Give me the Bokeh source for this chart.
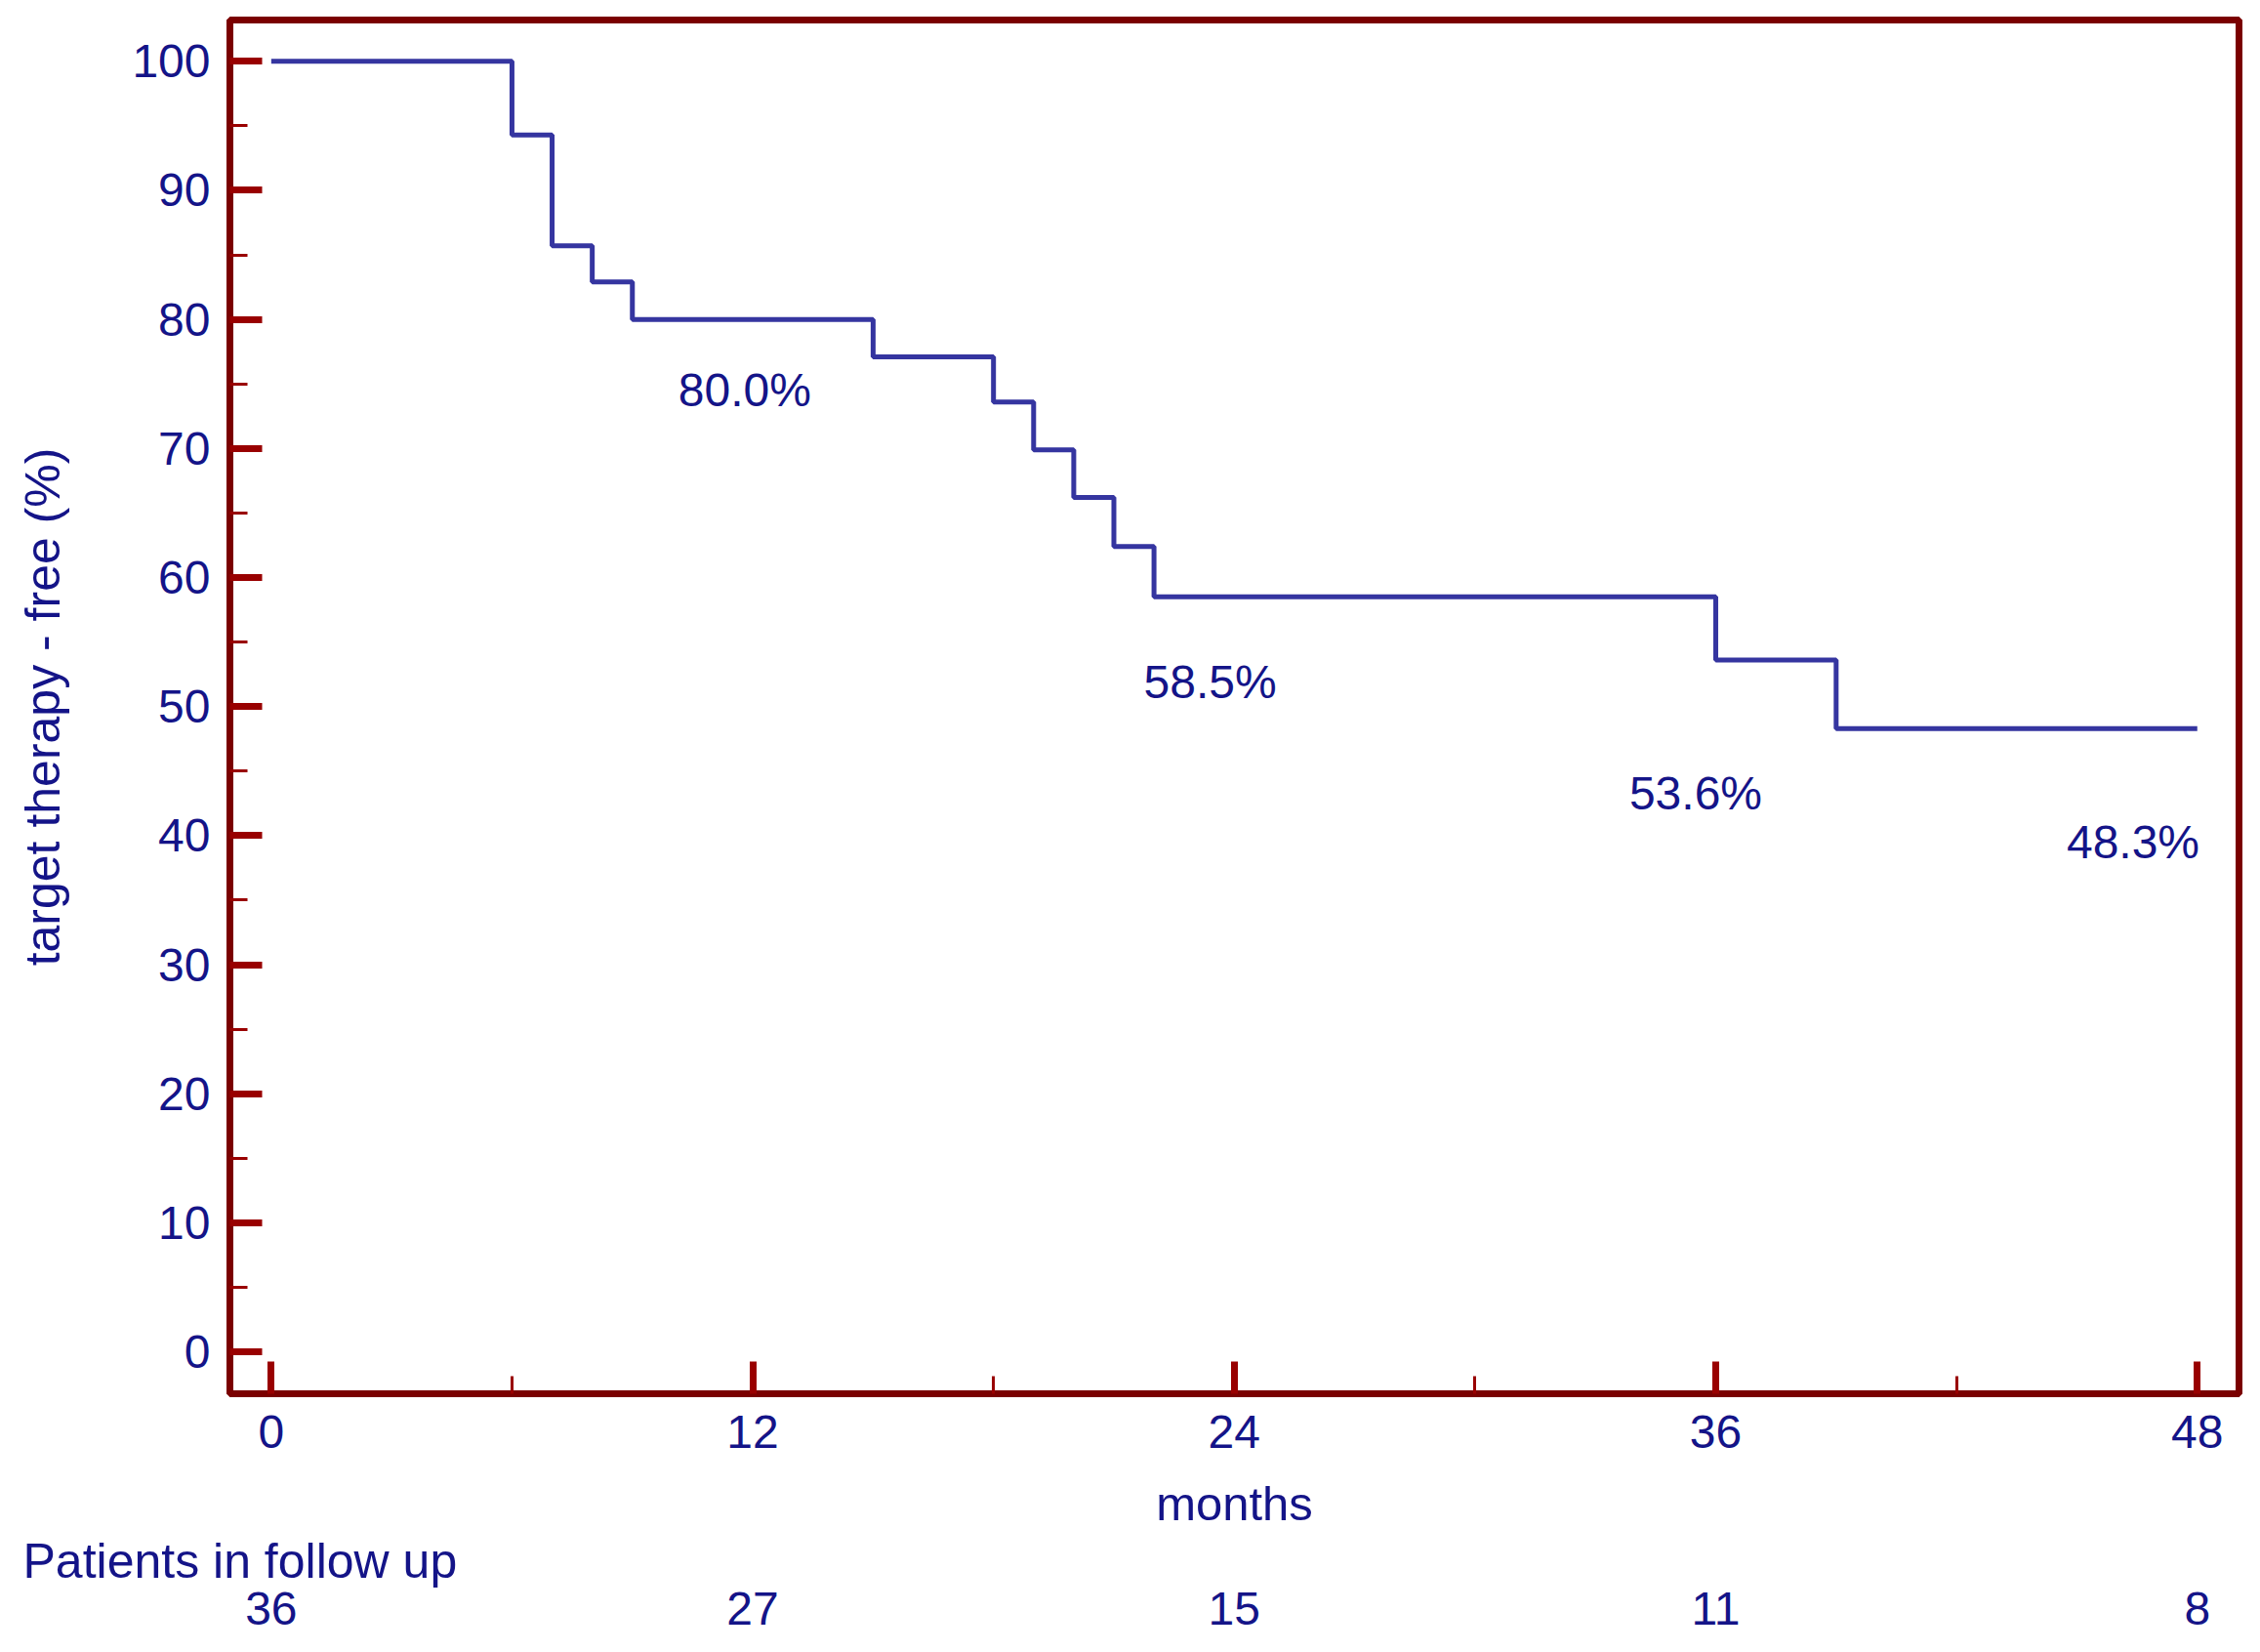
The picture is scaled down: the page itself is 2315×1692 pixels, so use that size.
from bokeh.plotting import figure
from bokeh.models import FixedTicker, Range1d, Label, LinearAxis, Title
from bokeh.embed import file_html
from bokeh.resources import INLINE

# Kaplan-Meier step data (months, % target-therapy free)
months = [0, 6, 7, 8, 9, 15, 18, 19, 20, 21, 22, 36, 39, 48]
survival = [100.0, 94.3, 85.7, 82.9, 80.0, 77.1, 73.6, 69.9, 66.2, 62.4, 58.5, 53.6, 48.3, 48.3]

# annotated percentages
ann_text = ["80.0%", "58.5%", "53.6%", "48.3%"]
ann_x = [11.8, 23.4, 35.5, 46.4]
ann_y = [74.5, 51.9, 43.3, 39.5]

# axis ticks
x_ticks = [0, 12, 24, 36, 48]
x_minor = [6, 18, 30, 42]
y_ticks = [0, 10, 20, 30, 40, 50, 60, 70, 80, 90, 100]
y_minor = [5, 15, 25, 35, 45, 55, 65, 75, 85, 95]

# patients in follow up
follow_times = [0, 12, 24, 36, 48]
follow_counts = ["36", "27", "15", "11", "8"]

FRAME = "#7a0000"
TICK = "#990000"
TEXT = "#141488"
CURVE = "#3535a0"
FONT = "Liberation Sans"
FS = "48px"
FS_TITLE = "50px"

W, H = 2299, 1676
LEFT, RIGHT, TOP, BOTTOM = 235, 6, 20, 249

p = figure(width=W, height=H, output_backend="svg", toolbar_location=None,
           x_range=Range1d(-1.03, 49.04), y_range=Range1d(-3.25, 103.2),
           min_border_left=LEFT, min_border_right=RIGHT, min_border_top=TOP,
           min_border_bottom=BOTTOM)

p.grid.visible = False
p.outline_line_color = FRAME
p.outline_line_width = 7
p.outline_line_alpha = 1.0
p.background_fill_color = "white"
p.border_fill_color = "white"

p.step(months, survival, mode="after", line_color=CURVE, line_width=5)

for t, x, y in zip(ann_text, ann_x, ann_y):
    p.add_layout(Label(x=x, y=y, text=t, text_align="center", text_baseline="middle",
                       text_color=TEXT, text_font=FONT, text_font_size=FS))

for ax, ticks, minor in ((p.xaxis[0], x_ticks, x_minor), (p.yaxis[0], y_ticks, y_minor)):
    ax.ticker = FixedTicker(ticks=ticks, minor_ticks=minor)
    ax.axis_line_color = FRAME
    ax.axis_line_width = 7
    ax.major_tick_line_color = TICK
    ax.major_tick_line_width = 7
    ax.major_tick_in = 33
    ax.major_tick_out = 0
    ax.minor_tick_line_color = TICK
    ax.minor_tick_line_width = 3
    ax.minor_tick_in = 18
    ax.minor_tick_out = 0
    ax.major_label_text_color = TEXT
    ax.major_label_text_font = FONT
    ax.major_label_text_font_size = FS
    ax.axis_label_text_color = TEXT
    ax.axis_label_text_font = FONT
    ax.axis_label_text_font_size = FS_TITLE
    ax.axis_label_text_font_style = "normal"

p.xaxis[0].major_label_standoff = 22
p.xaxis[0].axis_label = "months"
p.xaxis[0].axis_label_text_font_size = "49px"
p.xaxis[0].axis_label_standoff = 27
p.yaxis[0].major_label_standoff = 20
p.yaxis[0].axis_label = "target therapy - free (%)"
p.yaxis[0].axis_label_standoff = 60

# "Patients in follow up" caption, left aligned near the page edge
p.add_layout(Title(text="Patients in follow up", align="left", vertical_align="middle",
                   offset=-(LEFT - 23), standoff=0, text_color=TEXT, text_font=FONT,
                   text_font_size=FS_TITLE, text_font_style="normal"), "below")

# row of patient counts under the month ticks
counts_axis = LinearAxis(ticker=FixedTicker(ticks=follow_times, minor_ticks=[]),
                         major_label_overrides={t: c for t, c in zip(follow_times, follow_counts)},
                         axis_line_color=None, major_tick_line_color=None,
                         minor_tick_line_color=None, major_tick_in=0, major_tick_out=0,
                         minor_tick_in=0, minor_tick_out=0, major_label_standoff=3,
                         major_label_text_color=TEXT, major_label_text_font=FONT,
                         major_label_text_font_size=FS)
p.add_layout(counts_axis, "below")

open("out.html", "w").write(file_html(p, INLINE))
